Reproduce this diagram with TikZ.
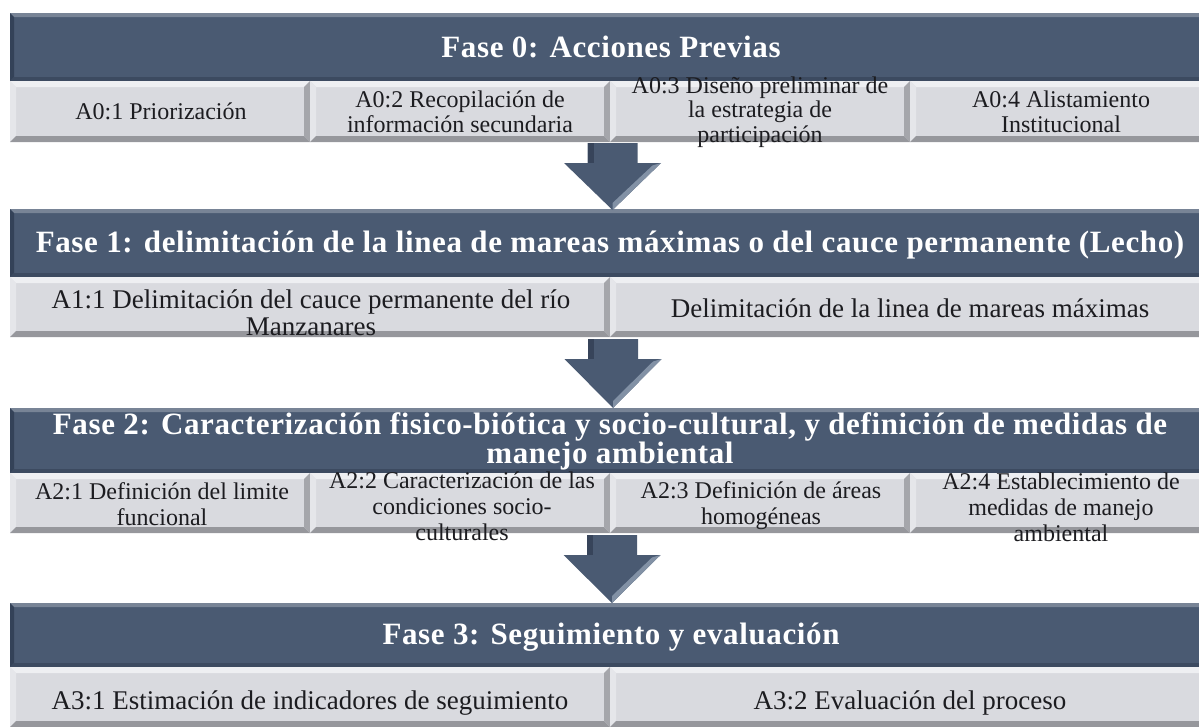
\documentclass[tikz,border=0pt]{standalone}
\usepackage{fontspec}
\setmainfont{Liberation Serif}
\usetikzlibrary{calc}
\definecolor{hdrface}{RGB}{74,90,114}
\definecolor{hdrtop}{RGB}{120,132,150}
\definecolor{hdrleft}{RGB}{52,66,88}
\definecolor{hdrbot}{RGB}{60,74,96}
\definecolor{hdrright}{RGB}{64,78,100}
\definecolor{boxface}{RGB}{217,218,223}
\definecolor{boxtop}{RGB}{238,239,242}
\definecolor{boxleft}{RGB}{229,230,234}
\definecolor{boxbot}{RGB}{150,151,156}
\definecolor{boxright}{RGB}{165,166,171}
\definecolor{arrface}{RGB}{74,90,114}
\definecolor{arrlight}{RGB}{130,145,165}
\definecolor{arrdark}{RGB}{55,68,90}
\definecolor{txt}{RGB}{28,28,32}
\tikzset{
  bevel/.style n args={5}{path picture={
     \path (path picture bounding box.north west) coordinate (pnw)
           (path picture bounding box.north east) coordinate (pne)
           (path picture bounding box.south west) coordinate (psw)
           (path picture bounding box.south east) coordinate (pse);
     \fill[#2] (pnw) -- (pne) -- ([shift={(-#1,-#1)}]pne) -- ([shift={(#1,-#1)}]pnw) -- cycle;
     \fill[#3] (pnw) -- ([shift={(#1,-#1)}]pnw) -- ([shift={(#1,#1)}]psw) -- (psw) -- cycle;
     \fill[#4] (psw) -- ([shift={(#1,#1)}]psw) -- ([shift={(-#1,#1)}]pse) -- (pse) -- cycle;
     \fill[#5] (pse) -- ([shift={(-#1,#1)}]pse) -- ([shift={(-#1,-#1)}]pne) -- (pne) -- cycle;
  }},
  hdr/.style={rectangle, fill=hdrface, minimum width=1200pt, inner sep=0pt,
     bevel={4pt}{hdrtop}{hdrleft}{hdrbot}{hdrright}},
  actbox/.style={rectangle, fill=boxface, inner sep=0pt,
     bevel={6pt}{boxtop}{boxleft}{boxbot}{boxright}},
  quad/.style={actbox, minimum width=300pt},
  half/.style={actbox, minimum width=600pt},
  title/.style={text=white, align=center, inner sep=0pt,
     font=\fontsize{31}{28}\selectfont\bfseries\addfontfeatures{LetterSpace=2}},
  acttext/.style={text=txt, align=center, inner sep=0pt,
     font=\fontsize{24}{24.5}\selectfont},
  acttextb/.style={acttext, font=\fontsize{24}{26}\selectfont},
  acttextl/.style={acttext, font=\fontsize{27}{27}\selectfont},
}
\newcommand\blkarrow[2]{%
  \fill[arrface] ($(#1)+(-25,0)$) -- ($(#1)+(25,0)$) -- ($(#1)+(25,20)$) -- ($(#1)+(48.5,20)$)
     -- (#2) -- ($(#1)+(-48.5,20)$) -- ($(#1)+(-25,20)$) -- cycle;
  \fill[arrdark] ($(#1)+(-25,0)$) -- ($(#1)+(-19,0)$) -- ($(#1)+(-19,20)$) -- ($(#1)+(-25,20)$) -- cycle;
  \fill[arrlight] ($(#1)+(48.5,20)$) -- (#2) -- ($(#2)+(0,-7)$) -- ($(#1)+(40,22.5)$) -- cycle;
}
\begin{document}
\begin{tikzpicture}[x=1pt,y=-1pt]
\useasboundingbox (0,0) rectangle (1199,726);
\clip (0,0) rectangle (1199,726);
% ---------- Fase 0
\node[hdr, minimum height=68pt] (h0) at (610,47) {};
\node[title] (T0) at (611,47) {Fase 0: Acciones Previas};
\node[quad, minimum height=61pt] (b01) at (160,111.5) {};
\node[quad, minimum height=61pt] (b02) at (460,111.5) {};
\node[quad, minimum height=61pt] (b03) at (760,111.5) {};
\node[quad, minimum height=61pt] (b04) at (1060,111.5) {};
\node[acttext] (t01) at (161,111.5) {A0:1 Priorización};
\node[acttext] (t02) at (460,112) {A0:2 Recopilación de\\información secundaria};
\node[acttext] (t03) at (760,112) {A0:3 Diseño preliminar de\\la estrategia de\\participación};
\node[acttext] (t04) at (1061,112) {A0:4 Alistamiento\\Institucional};
% ---------- Fase 1
\node[hdr, minimum height=68pt] (h1) at (610,243) {};
\node[title] (T1) at (610,245) {Fase 1: delimitación de la linea de mareas máximas o del cauce permanente (Lecho)};
\node[half, minimum height=60pt] (b11) at (310,307) {};
\node[half, minimum height=60pt] (b12) at (910,307) {};
\node[acttextl] (t11) at (311,313) {A1:1 Delimitación del cauce permanente del río\\Manzanares};
\node[acttextl] (t12) at (910,308) {Delimitación de la linea de mareas máximas};
% ---------- Fase 2
\node[hdr, minimum height=65pt] (h2) at (610,440.5) {};
\node[title] (T2) at (610,441.5) {Fase 2: Caracterización fisico-biótica y socio-cultural, y definición de medidas de\\manejo ambiental};
\node[quad, minimum height=60pt] (b21) at (160,503) {};
\node[quad, minimum height=60pt] (b22) at (460,503) {};
\node[quad, minimum height=60pt] (b23) at (760,503) {};
\node[quad, minimum height=60pt] (b24) at (1060,503) {};
\node[acttextb] (t21) at (162,504) {A2:1 Definición del limite\\funcional};
\node[acttextb] (t22) at (462,506) {A2:2 Caracterización de las\\condiciones socio-\\culturales};
\node[acttextb] (t23) at (761,506) {A2:3 Definición de áreas\\homogéneas};
\node[acttextb] (t24) at (1061,507) {A2:4 Establecimiento de\\medidas de manejo\\ambiental};
% ---------- Fase 3
\node[hdr, minimum height=64pt] (h3) at (610,635) {};
\node[title] (T3) at (611,637) {Fase 3: Seguimiento y evaluación};
\node[half, minimum height=60pt] (b31) at (310,697) {};
\node[half, minimum height=60pt] (b32) at (910,697) {};
\node[acttextl] (t31) at (310,703) {A3:1 Estimación de indicadores de seguimiento};
\node[acttextl] (t32) at (910,703) {A3:2 Evaluación del proceso};
% ---------- arrows
\coordinate (a1s) at (612.5,143);
\coordinate (a1e) at (612.5,210);
\coordinate (a2s) at (613,339);
\coordinate (a2e) at (613,408);
\coordinate (a3s) at (612,535);
\coordinate (a3e) at (612,603);
\blkarrow{a1s}{a1e}
\blkarrow{a2s}{a2e}
\blkarrow{a3s}{a3e}
\end{tikzpicture}
\end{document}
